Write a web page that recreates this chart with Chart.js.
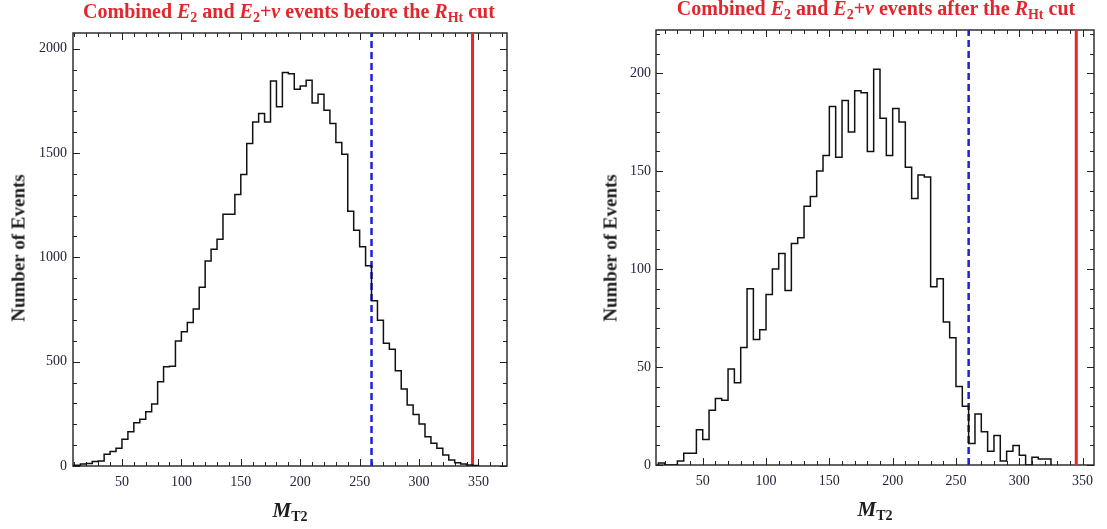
<!DOCTYPE html>
<html>
<head>
<meta charset="utf-8">
<title>M_T2 distributions</title>
<script src="https://cdn.jsdelivr.net/npm/chart.js@4.4.1/dist/chart.umd.min.js"></script>
<style>
  body { margin: 0; background: #fff; width: 1107px; height: 529px; position: relative; overflow: hidden; font-family: "Liberation Serif", "DejaVu Serif", serif; }
  canvas { position: absolute; top: 0; }
  .title { position: absolute; color: #e3262e; font-weight: bold; font-size: 20px; line-height: 20px; white-space: nowrap; transform: translateX(-50%); }
  .sub { font-size: 14px; position: relative; top: 4px; }
  .ytitle { position: absolute; font-weight: bold; font-size: 19px; line-height: 19px; white-space: nowrap; color: #1c1c1c; transform: translate(-50%, -50%) rotate(-90deg); }
  .xtitle { position: absolute; font-weight: bold; font-size: 21px; line-height: 21px; white-space: nowrap; color: #1c1c1c; transform: translateX(-50%); }
</style>
</head>
<body>
<canvas id="before-chart" width="530" height="529" style="left:0"></canvas>
<canvas id="after-chart" width="547" height="529" style="left:560px"></canvas>

<div class="title" style="left:289px; top:1px">Combined <i>E</i><span class="sub">2</span> and <i>E</i><span class="sub">2</span>+<i>ν</i> events before the <i>R</i><span class="sub">Ht</span> cut</div>
<div class="title" style="left:876px; top:-2px">Combined <i>E</i><span class="sub">2</span> and <i>E</i><span class="sub">2</span>+<i>ν</i> events after the <i>R</i><span class="sub">Ht</span> cut</div>

<div class="ytitle" style="left:18px; top:248px">Number of Events</div>
<div class="ytitle" style="left:610px; top:248px">Number of Events</div>

<div class="xtitle" style="left:290px; top:500px"><i>M</i><span class="sub">T2</span></div>
<div class="xtitle" style="left:875px; top:499px"><i>M</i><span class="sub">T2</span></div>

<script>
// Histogram bins are 5 GeV wide
const BIN_WIDTH = 5;

// Events per bin before the R_Ht cut, first bin starts at 5
const beforeFirstEdge = 5;
const beforeCounts = [
  2, 3, 10, 12, 22, 24, 56, 69, 85, 128,
  164, 207, 224, 260, 297, 404, 476, 478, 599, 643,
  688, 752, 856, 982, 1039, 1087, 1207, 1207, 1301, 1397,
  1545, 1649, 1689, 1649, 1845, 1721, 1886, 1880, 1806, 1821,
  1849, 1740, 1782, 1705, 1641, 1550, 1494, 1221, 1130, 1051,
  960, 792, 699, 588, 559, 456, 369, 292, 247, 201,
  140, 109, 85, 53, 29, 16, 10, 5, 2
];

// Events per bin after the R_Ht cut, first bin starts at 15
const afterFirstEdge = 15;
const afterCounts = [
  1, 0, 0, 2, 6, 6, 18, 13, 28, 34,
  33, 49, 42, 60, 90, 64, 69, 87, 100, 108,
  89, 113, 116, 132, 137, 150, 158, 183, 157, 186,
  170, 191, 190, 160, 202, 177, 158, 182, 175, 152,
  136, 148, 147, 91, 95, 73, 65, 40, 30, 11,
  26, 17, 7, 15, 2, 7, 10, 5, 0, 4,
  3, 3
];

// Cut positions on M_T2
const looseCut = 260;
const hardCut = 345;

const xTicks = [50, 100, 150, 200, 250, 300, 350];
const beforeYTicks = [0, 500, 1000, 1500, 2000];
const afterYTicks = [0, 50, 100, 150, 200];

Chart.defaults.font.family = '"Liberation Serif", "DejaVu Serif", serif';

// Turn bin counts into an outline that closes to zero at both ends
function histogramOutline(firstEdge, counts) {
  const pts = [{ x: firstEdge, y: 0 }];
  counts.forEach((c, i) => pts.push({ x: firstEdge + i * BIN_WIDTH, y: c }));
  pts.push({ x: firstEdge + counts.length * BIN_WIDTH, y: 0 });
  return pts;
}

// Frame on all four sides with inward major/minor ticks
const frameTicks = {
  id: 'frameTicks',
  beforeDatasetsDraw(chart, args, opts) {
    const { ctx, chartArea: a, scales: { x, y } } = chart;
    ctx.save();
    ctx.strokeStyle = '#222';
    ctx.lineWidth = 1;
    ctx.beginPath();
    for (let v = Math.ceil(x.min / opts.xMinor) * opts.xMinor; v <= x.max; v += opts.xMinor) {
      const px = Math.round(x.getPixelForValue(v)) + 0.5;
      const len = v % opts.xMajor === 0 ? 7 : 4;
      ctx.moveTo(px, a.bottom); ctx.lineTo(px, a.bottom - len);
      ctx.moveTo(px, a.top); ctx.lineTo(px, a.top + len);
    }
    for (let v = Math.ceil(y.min / opts.yMinor) * opts.yMinor; v <= y.max; v += opts.yMinor) {
      const py = Math.round(y.getPixelForValue(v)) + 0.5;
      const len = v % opts.yMajor === 0 ? 7 : 4;
      ctx.moveTo(a.left, py); ctx.lineTo(a.left + len, py);
      ctx.moveTo(a.right, py); ctx.lineTo(a.right - len, py);
    }
    ctx.stroke();
    ctx.lineWidth = 1.4;
    ctx.strokeRect(a.left, a.top, a.right - a.left, a.bottom - a.top);
    ctx.restore();
  }
};

function cutLine(value, yMax, color, width, dash) {
  return {
    data: [{ x: value, y: 0 }, { x: value, y: yMax }],
    borderColor: color,
    borderWidth: width,
    borderDash: dash,
    pointRadius: 0,
    fill: false
  };
}

function makeChart(id, o) {
  return new Chart(document.getElementById(id), {
    type: 'line',
    data: {
      datasets: [
        {
          data: histogramOutline(o.firstEdge, o.counts),
          stepped: 'before',
          borderColor: '#111',
          borderWidth: 1.5,
          pointRadius: 0,
          fill: false
        },
        cutLine(looseCut, o.yMax, '#1e22d8', 2.5, [7, 4]),
        cutLine(hardCut, o.yMax, '#e8262a', 3, [])
      ]
    },
    options: {
      responsive: false,
      animation: false,
      devicePixelRatio: 1,
      layout: { padding: o.padding },
      plugins: {
        legend: { display: false },
        tooltip: { enabled: false },
        frameTicks: { xMinor: 10, xMajor: 50, yMinor: o.yMinor, yMajor: o.yMajor }
      },
      scales: {
        x: {
          type: 'linear',
          min: o.xMin,
          max: o.xMax,
          grid: { display: false, drawTicks: false },
          border: { display: false },
          ticks: { color: '#23233a', font: { size: 14 }, padding: 8, maxRotation: 0, autoSkip: false, callback: v => String(v) },
          afterBuildTicks: s => { s.ticks = xTicks.map(v => ({ value: v })); },
          afterFit: s => { s.height = o.xAxisHeight; }
        },
        y: {
          type: 'linear',
          min: 0,
          max: o.yMax,
          grid: { display: false, drawTicks: false },
          border: { display: false },
          ticks: { color: '#23233a', font: { size: 14 }, padding: o.yPad, autoSkip: false, callback: v => String(v) },
          afterBuildTicks: s => { s.ticks = o.yTicks.map(v => ({ value: v })); },
          afterFit: s => { s.width = o.yAxisWidth; }
        }
      }
    },
    plugins: [frameTicks]
  });
}

makeChart('before-chart', {
  firstEdge: beforeFirstEdge,
  counts: beforeCounts,
  xMin: 8.8, xMax: 374,
  yMax: 2075, yTicks: beforeYTicks, yMinor: 100, yMajor: 500,
  padding: { left: 0, top: 33, right: 23, bottom: 0 },
  yAxisWidth: 73, xAxisHeight: 63, yPad: 6
});

makeChart('after-chart', {
  firstEdge: afterFirstEdge,
  counts: afterCounts,
  xMin: 13.1, xMax: 359,
  yMax: 222, yTicks: afterYTicks, yMinor: 10, yMajor: 50,
  padding: { left: 0, top: 30, right: 13, bottom: 0 },
  yAxisWidth: 96, xAxisHeight: 64, yPad: 5
});
</script>
</body>
</html>
